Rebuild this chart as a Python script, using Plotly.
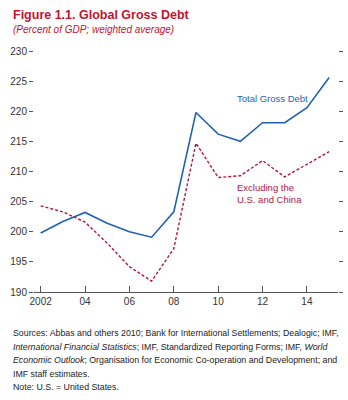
import plotly.graph_objects as go

years = list(range(2002, 2016))
total_gross_debt = [199.8, 201.7, 203.2, 201.4, 200.0, 199.1, 203.3, 219.8, 216.2, 215.0, 218.1, 218.1, 220.6, 225.6]
excl_us_china = [204.3, 203.3, 201.6, 198.1, 194.2, 191.8, 197.2, 214.7, 209.0, 209.3, 211.8, 209.1, 211.2, 213.3]
x_tickvals = [2002, 2004, 2006, 2008, 2010, 2012, 2014]
x_ticktext = ["2002", "04", "06", "08", "10", "12", "14"]
y_tickvals = [190, 195, 200, 205, 210, 215, 220, 225, 230]

source_lines = [
    "Sources: Abbas and others 2010; Bank for International Settlements; Dealogic; IMF,",
    "<i>International Financial Statistics</i>; IMF, Standardized Reporting Forms; IMF, <i>World</i>",
    "<i>Economic Outlook</i>; Organisation for Economic Co-operation and Development; and",
    "IMF staff estimates.",
    "Note: U.S. = United States.",
]

BLUE = "#1f62b4"
RED = "#b5163f"
TITLE_RED = "#c4122f"
FONT = "Liberation Sans, Arial"

W, H = 348, 400
L, R, T, B = 34, 10, 51, 108
plot_w = W - L - R
plot_h = H - T - B


def px(x):
    return (x - L) / plot_w


def py(y):
    return (H - B - y) / plot_h


fig = go.Figure()
fig.add_trace(go.Scatter(x=years, y=total_gross_debt, mode="lines",
                         line=dict(color=BLUE, width=1.6), showlegend=False))
fig.add_trace(go.Scatter(x=years, y=excl_us_china, mode="lines",
                         line=dict(color=RED, width=1.4, dash="3px,2px"), showlegend=False))

annotations = [
    dict(x=px(11), y=py(15), text="<b>Figure 1.1. Global Gross Debt</b>", font=dict(size=12.5, color=TITLE_RED, family=FONT)),
    dict(x=px(11), y=py(29), text="<i>(Percent of GDP; weighted average)</i>", font=dict(size=10, color=TITLE_RED, family=FONT)),
    dict(x=px(235), y=py(98), text="Total Gross Debt", font=dict(size=9.5, color=BLUE, family=FONT)),
    dict(x=px(235), y=py(187.5), text="Excluding the", font=dict(size=9.5, color=RED, family=FONT)),
    dict(x=px(235), y=py(199.5), text="U.S. and China", font=dict(size=9.5, color=RED, family=FONT)),
]
for i, line in enumerate(source_lines):
    annotations.append(dict(x=px(11), y=py(333 + 13.5 * i), text=line,
                            font=dict(size=8.8, color="#222222", family=FONT)))
for a in annotations:
    a.update(xref="paper", yref="paper", xanchor="left", yanchor="middle",
             showarrow=False, align="left")

fig.update_layout(
    width=W, height=H,
    margin=dict(l=L, r=R, t=T, b=B),
    paper_bgcolor="white", plot_bgcolor="white",
    font=dict(family=FONT, size=10, color="#333333"),
    annotations=annotations,
)
fig.update_xaxes(range=[2001.7, 2015.4], tickvals=x_tickvals, ticktext=x_ticktext,
                 ticks="inside", ticklen=6, tickcolor="#555555", showgrid=False, zeroline=False,
                 showline=True, linecolor="#555555", linewidth=1, tickfont=dict(size=10))
fig.update_yaxes(range=[190, 230], tickvals=y_tickvals, ticks="outside", ticklen=4,
                 tickcolor="#555555", mirror="ticks", showline=False, showgrid=False,
                 zeroline=False, tickfont=dict(size=10))

fig.write_html("out.html")
